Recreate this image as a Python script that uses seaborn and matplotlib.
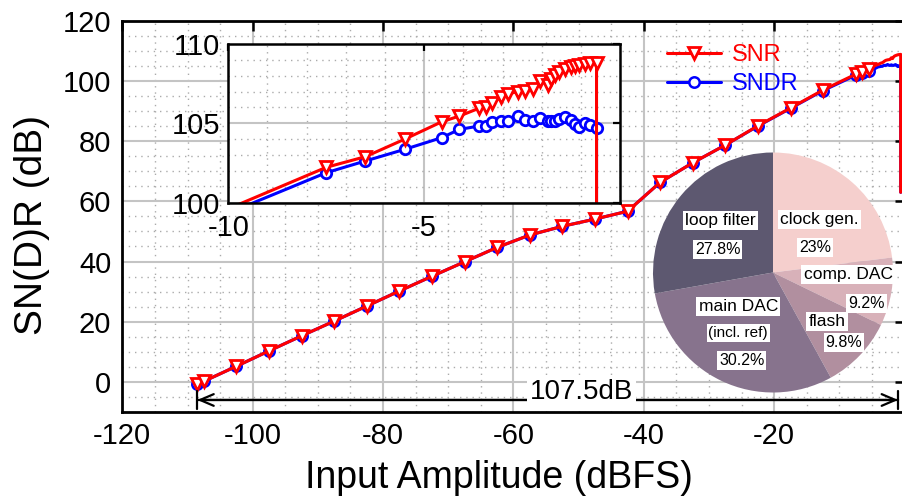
import matplotlib
matplotlib.use("Agg")
import matplotlib.pyplot as plt
from matplotlib.lines import Line2D
from matplotlib.ticker import MultipleLocator, FixedLocator
import seaborn as sns

# ---- measured dynamic range data ----
# coarse amplitude sweep (dBFS)
amp_coarse = [-108.5, -107.5, -102.5, -97.5, -92.5, -87.5, -82.5, -77.5, -72.5,
              -67.5, -62.5, -57.5, -52.5, -47.5, -42.5, -37.5, -32.5, -27.5,
              -22.5, -17.5, -12.5]
snr_coarse = [-0.7, 0.2, 5.2, 10.3, 15.3, 20.2, 25.2, 30.2, 35.1,
              39.9, 44.7, 48.8, 51.7, 54.1, 56.7, 66.3, 72.8, 78.7,
              85.1, 91.0, 97.0]
sndr_coarse = [-0.7, 0.2, 5.2, 10.3, 15.3, 20.2, 25.2, 30.2, 35.1,
               39.9, 44.7, 48.8, 51.7, 54.1, 56.7, 66.3, 72.8, 78.7,
               85.0, 90.9, 96.8]

# fine sweep close to full scale
amp_fine = [-7.5, -6.5, -5.5, -4.55, -4.1, -3.6, -3.42, -3.27, -3.05, -2.87,
            -2.61, -2.42, -2.23, -2.04, -1.85, -1.76, -1.65, -1.55, -1.4,
            -1.25, -1.14, -1.04, -0.9, -0.76, -0.6]
snr_fine = [102.23, 102.9, 104.0, 105.1, 105.46, 105.95, 106.05, 106.26, 106.64,
            106.85, 107.0, 107.06, 107.14, 107.69, 107.42, 107.78, 108.05,
            108.26, 108.4, 108.53, 108.61, 108.68, 108.74, 108.78, 108.82]
sndr_fine = [101.89, 102.63, 103.36, 104.10, 104.62, 104.83, 104.83, 105.08,
             105.17, 105.13, 105.46, 105.21, 105.13, 105.34, 105.17, 105.15,
             105.17, 105.29, 105.42, 105.21, 104.96, 104.75, 105.04, 104.92,
             104.69]

# overload
amp_over = [-0.6]
snr_over = [63.0]
sndr_over = [63.0]

# measured dynamic range
dr_start = -108.5
dr_span = 107.5

# power breakdown
power_blocks = ["clock gen.", "comp. DAC", "flash", "main DAC", "loop filter"]
power_share = [23.0, 9.2, 9.8, 30.2, 27.8]
power_colors = ["#f5cfcd", "#d8b1b9", "#b18f9f", "#87738d", "#5d5870"]

# ---- style ----
sns.set_theme(style="white")
plt.rcParams["font.family"] = ["Liberation Sans", "DejaVu Sans"]
plt.rcParams["axes.unicode_minus"] = False

RED = "#ff0000"
BLUE = "#0000ff"
MAJ_GRID = dict(color="#c4c4c4", linewidth=1.5, linestyle="-")
MIN_GRID = dict(color="#ababab", linewidth=1.0, linestyle=(0, (1, 3.5)))

amp_all = amp_coarse + amp_fine + amp_over
snr_all = snr_coarse + snr_fine + snr_over
sndr_all = sndr_coarse + sndr_fine + sndr_over

fig = plt.figure(figsize=(9.02, 5.04), dpi=100)
fig.patch.set_facecolor("white")

# ---- main axes ----
ax = fig.add_axes([0.1356, 0.1825, 0.8673, 0.7764])
ax.set_xlim(-120, 0)
ax.set_ylim(-10, 120)
ax.xaxis.set_major_locator(FixedLocator(list(range(-120, 0, 20))))
ax.yaxis.set_major_locator(MultipleLocator(20))
ax.xaxis.set_minor_locator(MultipleLocator(5))
ax.yaxis.set_minor_locator(MultipleLocator(5))
ax.set_axisbelow(True)
ax.grid(which="major", **MAJ_GRID)
ax.grid(which="minor", **MIN_GRID)
for s in ax.spines.values():
    s.set_color("black")
    s.set_linewidth(2.0)
ax.tick_params(which="major", direction="in", length=7, width=1.8,
               top=True, right=True, labelsize=21, pad=7, colors="black")
ax.tick_params(axis="y", which="major", pad=8)
ax.tick_params(which="minor", length=0)

main_marks = list(range(len(amp_coarse) + 3))
sns.lineplot(x=amp_all, y=sndr_all, ax=ax, color=BLUE, linewidth=2.2,
             marker="o", markersize=7.5, markerfacecolor="white",
             markeredgecolor=BLUE, markeredgewidth=1.8, markevery=main_marks,
             estimator=None, sort=False, legend=False)
sns.lineplot(x=amp_all, y=snr_all, ax=ax, color=RED, linewidth=2.2,
             marker="v", markersize=8.5, markerfacecolor="white",
             markeredgecolor=RED, markeredgewidth=2.0, markevery=main_marks,
             estimator=None, sort=False, legend=False)

ax.set_xlabel("Input Amplitude (dBFS)", fontsize=27, color="black")
ax.set_ylabel("SN(D)R (dB)", fontsize=28, color="black")
ax.xaxis.set_label_coords(0.4815, -0.168)
ax.yaxis.set_label_coords(-0.1154, 0.478)
ax.xaxis.label.set_va("center")
ax.yaxis.label.set_va("center")

# dynamic range arrow: heads plus end bars
dr_end = dr_start + dr_span
ax.annotate("", xy=(dr_end, -6), xytext=(dr_start, -6),
            arrowprops=dict(arrowstyle="<->,head_length=0.7,head_width=0.3",
                            color="black", lw=1.6, mutation_scale=14,
                            shrinkA=0, shrinkB=0))
ax.annotate("", xy=(dr_end, -6), xytext=(dr_start, -6),
            arrowprops=dict(arrowstyle="|-|,widthA=0.45,widthB=0.45",
                            color="black", lw=1.6, mutation_scale=14,
                            shrinkA=0, shrinkB=0))
ax.text(-49.5, -3.5, f"{dr_span}dB", ha="center", va="center", fontsize=20,
        color="black", zorder=5,
        bbox=dict(boxstyle="square,pad=0.1", fc="white", ec="none"))

# legend
handles = [
    Line2D([], [], color=RED, lw=2.2, marker="v", ms=8.5, mfc="white",
           mec=RED, mew=2.0),
    Line2D([], [], color=BLUE, lw=2.2, marker="o", ms=7.5, mfc="white",
           mec=BLUE, mew=1.8),
]
leg = ax.legend(handles, ["SNR", "SNDR"], loc="upper left",
                bbox_to_anchor=(667 / 902, 1 - 44 / 504),
                bbox_transform=fig.transFigure, frameon=False, fontsize=17,
                handlelength=2.3, handletextpad=0.45, labelspacing=0.3,
                borderpad=0, borderaxespad=0)
for t, c in zip(leg.get_texts(), [RED, BLUE]):
    t.set_color(c)

# ---- zoomed inset ----
axi = fig.add_axes([0.2531, 0.5978, 0.4343, 0.3149])
axi.set_facecolor("white")
axi.set_xlim(-10, 0)
axi.set_ylim(100, 110)
axi.xaxis.set_major_locator(FixedLocator([-10, -5]))
axi.yaxis.set_major_locator(FixedLocator([100, 105, 110]))
axi.xaxis.set_minor_locator(MultipleLocator(1))
axi.yaxis.set_minor_locator(MultipleLocator(1))
axi.set_axisbelow(True)
axi.grid(which="major", **MAJ_GRID)
axi.grid(which="minor", **MIN_GRID)
for s in axi.spines.values():
    s.set_color("black")
    s.set_linewidth(1.8)
axi.tick_params(which="major", direction="in", length=5, width=1.6,
                top=True, right=True, labelsize=21, pad=6, colors="black")
axi.tick_params(axis="x", which="major", pad=8)
axi.tick_params(which="minor", length=0)

inset_marks = list(range(len(amp_all) - 1))
sns.lineplot(x=amp_all, y=sndr_all, ax=axi, color=BLUE, linewidth=2.2,
             marker="o", markersize=7.5, markerfacecolor="white",
             markeredgecolor=BLUE, markeredgewidth=2.0, markevery=inset_marks,
             estimator=None, sort=False, legend=False)
sns.lineplot(x=amp_all, y=snr_all, ax=axi, color=RED, linewidth=2.2,
             marker="v", markersize=9, markerfacecolor="white",
             markeredgecolor=RED, markeredgewidth=2.0, markevery=inset_marks,
             estimator=None, sort=False, legend=False)
axi.set_xlabel("")
axi.set_ylabel("")

# ---- power breakdown pie ----
cx, cy, r = 773, 272.5, 120
axp = fig.add_axes([(cx - r) / 902, 1 - (cy + r) / 504, 2 * r / 902, 2 * r / 504])
axp.pie(power_share, colors=power_colors, startangle=90, counterclock=False,
        radius=1.0, wedgeprops=dict(linewidth=0))
axp.set_xlim(-1, 1)
axp.set_ylim(-1, 1)
axp.set_aspect("equal")
axp.axis("off")

box = dict(boxstyle="square,pad=0.12", fc="white", ec="none")
name_pos = {
    "clock gen.": (0.39, 0.445),
    "comp. DAC": (0.625, -0.02),
    "flash": (0.45, -0.41),
    "main DAC": (-0.29, -0.285),
    "loop filter": (-0.435, 0.435),
}
pct_pos = {
    "clock gen.": (0.35, 0.205),
    "comp. DAC": (0.78, -0.255),
    "flash": (0.59, -0.58),
    "main DAC": (-0.26, -0.73),
    "loop filter": (-0.46, 0.19),
}
for name, share in zip(power_blocks, power_share):
    nx, ny = name_pos[name]
    axp.text(nx, ny, name, ha="center", va="center", fontsize=12.5,
             color="black", bbox=box)
    px, py = pct_pos[name]
    axp.text(px, py, f"{share:g}%", ha="center", va="center", fontsize=11.5,
             color="black", bbox=box)
axp.text(-0.29, -0.505, "(incl. ref)", ha="center", va="center", fontsize=11,
         color="black", bbox=box)

fig.savefig("out.png", dpi=100, facecolor="white")
